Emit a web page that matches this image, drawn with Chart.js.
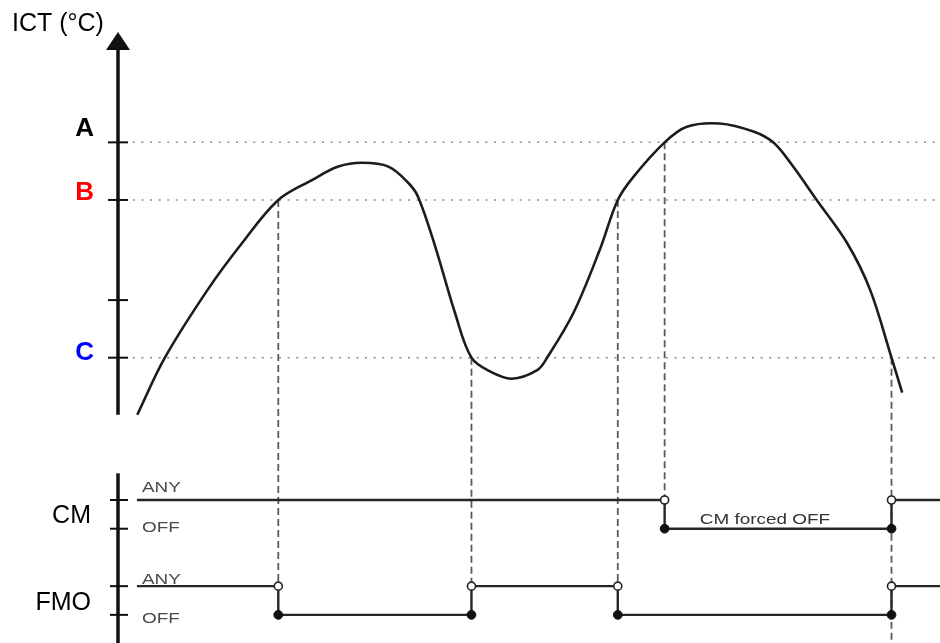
<!DOCTYPE html>
<html>
<head>
<meta charset="utf-8">
<script src="https://cdn.jsdelivr.net/npm/chart.js@4.4.1/dist/chart.umd.min.js"></script>
<style>
  html, body { margin: 0; padding: 0; background: #fff; overflow: hidden; }
  #wrap { width: 940px; height: 643px; position: relative; }
</style>
</head>
<body>
<div id="wrap"><canvas id="chart"></canvas></div>
<script>
// ICT curve: time (% of the window) and temperature (arbitrary °C)
const curveTime = [2.35, 5.7, 10.9, 15.1, 19.5, 23.6, 26.8, 29.7, 32.9, 35.3, 36.5, 38.6, 41.0, 43.0, 45.3, 47.9, 51.0, 52.2, 55.4, 58.6, 60.8, 62.7, 66.5, 69.2, 73.2, 77.3, 79.7, 81.8, 85.0, 88.7, 91.5, 94.1, 95.4];
const curveTemp = [-0.6, 10, 22.6, 31.3, 39.3, 43.0, 45.5, 46.2, 45.5, 42.5, 39.9, 30.6, 18.3, 10, 7.4, 6.1, 7.7, 10, 18.3, 30.0, 39.3, 43.6, 50, 52.9, 53.5, 52.0, 50, 46.2, 39.3, 31.3, 22.6, 10, 3.5];

// thresholds on the ICT axis
const thresholdNames = ["A", "B", "C"];
const thresholdTemp = [50, 39.3, 10];
const thresholdColors = ["#000000", "#ff0000", "#0000ff"];
const axisTicks = [50, 39.3, 20.7, 10];

// where the curve crosses a threshold and a state changes
const guideTime = [19.5, 43.0, 60.8, 66.5, 94.1];
const guideTemp = [39.3, 10, 39.3, 50, 10];
const guideLaneEnd = [1, 1, 1, 4, -0.98];

// state lanes
const laneLevels = { CM: { ANY: 4, OFF: 3 }, FMO: { ANY: 1, OFF: 0 } };
const cmTime = [2.3, 66.5, 94.1, 100];
const cmState = ["ANY", "OFF", "ANY", "ANY"];
const fmoTime = [2.3, 19.5, 43.0, 60.8, 94.1, 100];
const fmoState = ["ANY", "OFF", "ANY", "OFF", "ANY", "ANY"];

const curve = curveTime.map((t, i) => ({ x: t, y: curveTemp[i] }));
const lanePoints = (times, states, lane) => times.map((t, i) => ({ x: t, y: laneLevels[lane][states[i]] }));
const switchPoints = (times, lane, state) =>
	times.slice(1, -1).map((t) => ({ x: t, y: laneLevels[lane][state] }));

const datasets = [];

["CM", "FMO"].forEach((lane) => {
	const times = lane === "CM" ? cmTime : fmoTime;
	datasets.push({
		data: switchPoints(times, lane, "ANY"),
		yAxisID: "y2",
		showLine: false,
		pointRadius: 4,
		pointBackgroundColor: "#ffffff",
		pointBorderColor: "#222",
		pointBorderWidth: 1.6,
		order: 0,
	});
	datasets.push({
		data: switchPoints(times, lane, "OFF"),
		yAxisID: "y2",
		showLine: false,
		pointRadius: 4.4,
		pointBackgroundColor: "#111",
		pointBorderColor: "#111",
		pointBorderWidth: 1,
		order: 0,
	});
});

datasets.push({
	data: lanePoints(cmTime, cmState, "CM"),
	yAxisID: "y2",
	stepped: true,
	borderColor: "#262626",
	borderWidth: 2.4,
	pointRadius: 0,
	order: 1,
});
datasets.push({
	data: lanePoints(fmoTime, fmoState, "FMO"),
	yAxisID: "y2",
	stepped: true,
	borderColor: "#262626",
	borderWidth: 2.4,
	pointRadius: 0,
	order: 1,
});

datasets.push({
	data: curve,
	yAxisID: "y",
	borderColor: "#1c1c1c",
	borderWidth: 2.6,
	pointRadius: 0,
	tension: 0.35,
	order: 2,
});

thresholdTemp.forEach((v) => {
	datasets.push({
		data: [{ x: 1.8, y: v }, { x: 100, y: v }],
		yAxisID: "y",
		borderColor: "#8c8c8c",
		borderWidth: 1.5,
		borderDash: [2, 6.6],
		pointRadius: 0,
		order: 3,
	});
});

function smallText(ctx, text, px, py, align) {
	ctx.save();
	ctx.translate(px, py);
	ctx.scale(1.35, 1);
	ctx.textAlign = align || "left";
	ctx.fillText(text, 0, 0);
	ctx.restore();
}

const diagram = {
	id: "diagram",
	beforeDatasetsDraw(chart) {
		const { ctx, scales: { x, y, y2 } } = chart;
		ctx.save();
		ctx.strokeStyle = "#5a5a5a";
		ctx.lineWidth = 1.8;
		ctx.setLineDash([7, 4]);
		guideTime.forEach((t, i) => {
			const px = x.getPixelForValue(t);
			ctx.beginPath();
			ctx.moveTo(px, y.getPixelForValue(guideTemp[i]));
			ctx.lineTo(px, y2.getPixelForValue(guideLaneEnd[i]));
			ctx.stroke();
		});
		ctx.restore();
	},
	afterDraw(chart) {
		const { ctx, scales: { x, y, y2 } } = chart;
		const x0 = x.getPixelForValue(0);
		ctx.save();
		ctx.strokeStyle = "#111";
		ctx.fillStyle = "#111";

		// ICT axis with arrow
		const tip = y.getPixelForValue(70.5);
		ctx.lineWidth = 3.5;
		ctx.beginPath();
		ctx.moveTo(x0, y.getPixelForValue(-0.6));
		ctx.lineTo(x0, tip + 14);
		ctx.stroke();
		ctx.beginPath();
		ctx.moveTo(x0, tip);
		ctx.lineTo(x0 - 12, tip + 18);
		ctx.lineTo(x0 + 12, tip + 18);
		ctx.closePath();
		ctx.fill();
		ctx.lineWidth = 2;
		axisTicks.forEach((v) => {
			const py = y.getPixelForValue(v);
			ctx.beginPath();
			ctx.moveTo(x0 - 10, py);
			ctx.lineTo(x0 + 10, py);
			ctx.stroke();
		});

		// lane axis
		ctx.lineWidth = 3.5;
		ctx.beginPath();
		ctx.moveTo(x0, y2.getPixelForValue(4.93));
		ctx.lineTo(x0, chart.height);
		ctx.stroke();
		ctx.lineWidth = 2;
		[0, 1, 3, 4].forEach((v) => {
			const py = y2.getPixelForValue(v);
			ctx.beginPath();
			ctx.moveTo(x0 - 8, py);
			ctx.lineTo(x0 + 10, py);
			ctx.stroke();
		});

		// big labels
		ctx.font = "25px Arial, 'Liberation Sans', sans-serif";
		ctx.textAlign = "left";
		ctx.fillStyle = "#000";
		ctx.fillText("ICT (°C)", 12, 31);

		ctx.font = "bold 26px Arial, 'Liberation Sans', sans-serif";
		ctx.textAlign = "right";
		const nameShift = [-6, 0, 2];
		thresholdNames.forEach((n, i) => {
			ctx.fillStyle = thresholdColors[i];
			ctx.fillText(n, 94, y.getPixelForValue(thresholdTemp[i]) + nameShift[i]);
		});

		ctx.font = "25px Arial, 'Liberation Sans', sans-serif";
		ctx.fillStyle = "#000";
		["CM", "FMO"].forEach((lane) => {
			const mid = (y2.getPixelForValue(laneLevels[lane].ANY) + y2.getPixelForValue(laneLevels[lane].OFF)) / 2;
			ctx.fillText(lane, 91, mid + 9);
		});

		// small state labels
		ctx.font = "14px Arial, 'Liberation Sans', sans-serif";
		ctx.fillStyle = "#4a4a4a";
		const sx = x0 + 24;
		smallText(ctx, "ANY", sx, y2.getPixelForValue(laneLevels.CM.ANY) - 8);
		smallText(ctx, "OFF", sx, y2.getPixelForValue(laneLevels.CM.OFF) + 3);
		smallText(ctx, "ANY", sx, y2.getPixelForValue(laneLevels.FMO.ANY) - 2);
		smallText(ctx, "OFF", sx, y2.getPixelForValue(laneLevels.FMO.OFF) + 8);
		ctx.fillStyle = "#333";
		smallText(ctx, "CM forced OFF", x.getPixelForValue(78.7), y2.getPixelForValue(laneLevels.CM.OFF) - 5, "center");
		ctx.restore();
	},
};

new Chart(document.getElementById("chart"), {
	type: "line",
	data: { datasets },
	options: {
		responsive: true,
		maintainAspectRatio: false,
		animation: false,
		layout: { autoPadding: false, padding: { left: 118, right: 0, top: 32, bottom: 0 } },
		plugins: { legend: { display: false }, tooltip: { enabled: false } },
		scales: {
			x: { type: "linear", min: 0, max: 100, display: false },
			y: { type: "linear", min: -43, max: 70.5, display: false },
			y2: { type: "linear", axis: "y", position: "left", min: -0.98, max: 20.3, display: false },
		},
	},
	plugins: [diagram],
});
</script>
</body>
</html>
